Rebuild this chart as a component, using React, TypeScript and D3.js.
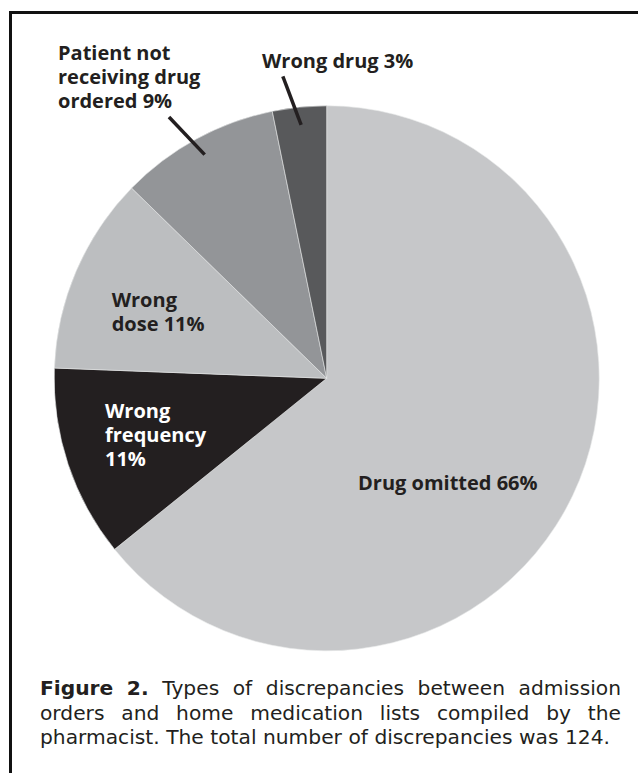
import React, { useEffect, useRef } from "react";
import * as d3 from "d3";

const categories = [
  "Drug omitted",
  "Wrong frequency",
  "Wrong dose",
  "Patient not receiving drug ordered",
  "Wrong drug",
];
// slice sizes as drawn (percent of circle, clockwise from 12 o'clock)
const sliceValues = [64.2, 11.4, 11.7, 9.5, 3.2];
const labelLines = [
  ["Drug omitted 66%"],
  ["Wrong", "frequency", "11%"],
  ["Wrong", "dose 11%"],
  ["Patient not", "receiving drug", "ordered 9%"],
  ["Wrong drug 3%"],
];
const sliceColors = ["#c6c7c9", "#231f20", "#bcbec0", "#939598", "#58595b"];
const labelColors = ["#231f20", "#ffffff", "#231f20", "#231f20", "#231f20"];
const captionLines = [
  "Figure 2. Types of discrepancies between admission",
  "orders and home medication lists compiled by the",
  "pharmacist. The total number of discrepancies was 124.",
];
const captionBoldWords = 2;

const W = 638;
const H = 773;
const cx = 326.7;
const cy = 378.3;
const R = 272.5;
// label anchor (x, first baseline) per slice
const labelPos: [number, number][] = [
  [358, 490],
  [105, 418],
  [111.7, 306.7],
  [58, 60],
  [262, 68],
];
const leaderSlices = [3, 4];
const FONT = "'Open Sans', 'Noto Sans', sans-serif";
const CAP_FONT = "'DejaVu Sans', 'Open Sans', sans-serif";

export default function App() {
  const capRef = useRef<SVGGElement>(null);

  const pie = d3.pie<number>().sort(null).value((d) => d);
  const arcs = pie(sliceValues);
  const arcGen = d3
    .arc<d3.PieArcDatum<number>>()
    .innerRadius(0)
    .outerRadius(R);

  const polar = (a: number, r: number) => [cx + Math.sin(a) * r, cy - Math.cos(a) * r];

  useEffect(() => {
    const g = d3.select(capRef.current);
    g.selectAll("*").remove();
    const left = 40;
    const right = 621;
    const lastEnd = 610;
    const baselines = [695, 720, 744];

    // fit caption size so the (unjustified) last line spans left..lastEnd
    const probe = g
      .append("text")
      .attr("font-family", CAP_FONT)
      .attr("font-size", 20)
      .text(captionLines[captionLines.length - 1]);
    const pw = (probe.node() as SVGTextElement).getComputedTextLength();
    probe.remove();
    const fs = (20 * (lastEnd - left)) / pw;

    captionLines.forEach((line, li) => {
      const words = line.split(" ");
      const nodes: { node: SVGTextElement; w: number }[] = [];
      words.forEach((w, wi) => {
        const bold = li === 0 && wi < captionBoldWords;
        const t = g
          .append("text")
          .attr("y", baselines[li])
          .attr("font-family", CAP_FONT)
          .attr("font-size", fs)
          .attr("font-weight", bold ? 700 : 400)
          .attr("fill", "#231f20")
          .text(w);
        const node = t.node() as SVGTextElement;
        nodes.push({ node, w: node.getComputedTextLength() });
      });
      const total = nodes.reduce((s, n) => s + n.w, 0);
      const justify = li < captionLines.length - 1;
      const gap = justify
        ? (right - left - total) / (nodes.length - 1)
        : (lastEnd - left - total) / (nodes.length - 1);
      let x = left;
      nodes.forEach((n) => {
        d3.select(n.node).attr("x", x);
        x += n.w + gap;
      });
    });
  }, []);

  return (
    <svg
      width={W}
      height={H}
      style={{ position: "absolute", left: 0, top: 0, background: "#fff" }}
    >
      <path d={`M10.5,${H} V12.5 H${W}`} fill="none" stroke="#111" strokeWidth={3} />
      <g>
        {arcs.map((a, i) => (
          <path
            key={categories[i]}
            d={arcGen(a) as string}
            transform={`translate(${cx},${cy})`}
            fill={sliceColors[i]}
            stroke="#e6e7e8"
            strokeWidth={0.6}
          />
        ))}
      </g>
      <g>
        {leaderSlices.map((i) => {
          const a = arcs[i];
          const mid = (a.startAngle + a.endAngle) / 2;
          const [x1, y1] = polar(mid, R * 0.935);
          const [x2, y2] = polar(mid - (2.5 * Math.PI) / 180, R * 1.12);
          return (
            <line
              key={"l" + i}
              x1={x1}
              y1={y1}
              x2={x2}
              y2={y2}
              stroke="#231f20"
              strokeWidth={3.5}
            />
          );
        })}
      </g>
      <g>
        {labelLines.map((lines, i) => (
          <text
            key={"t" + i}
            fontFamily={FONT}
            fontSize={20}
            fontWeight={700}
            fill={labelColors[i]}
          >
            {lines.map((ln, j) => (
              <tspan key={j} x={labelPos[i][0]} y={labelPos[i][1] + j * 24}>
                {ln}
              </tspan>
            ))}
          </text>
        ))}
      </g>
      <g ref={capRef} />
    </svg>
  );
}
